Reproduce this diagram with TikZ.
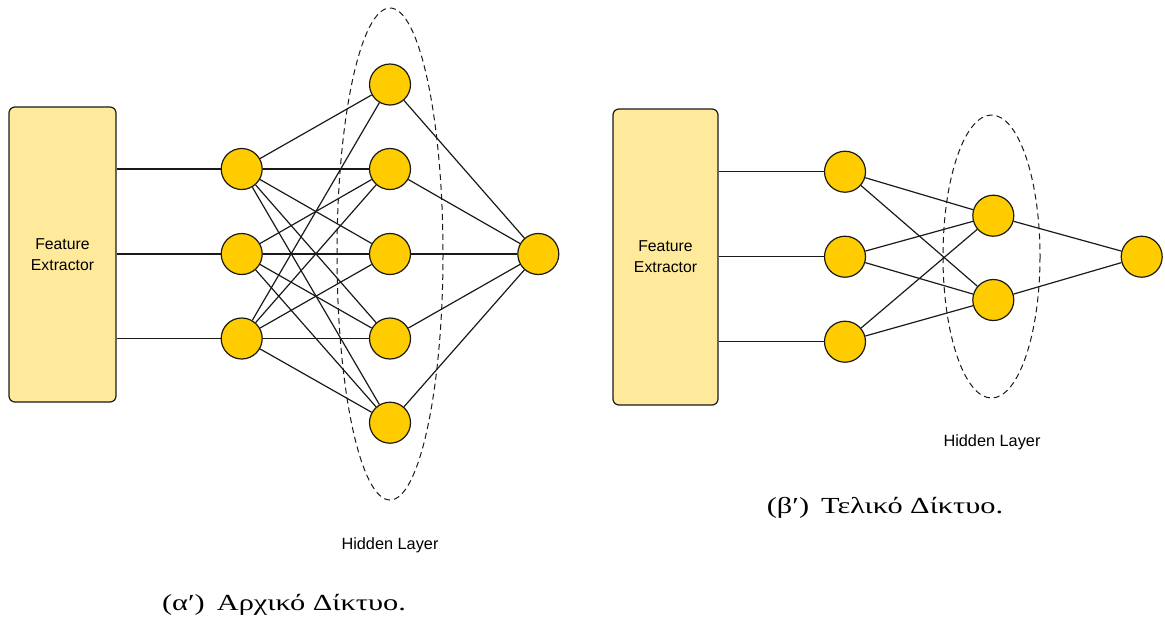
\documentclass[tikz,border=0pt]{standalone}
\usepackage{fontspec}
\setmainfont{Liberation Serif}
\setsansfont{Liberation Sans}
\newfontfamily\capfont[FakeStretch=1.32]{Liberation Serif}
\definecolor{boxfill}{HTML}{FFE99A}
\definecolor{nodefill}{HTML}{FFCC00}
\definecolor{edgecol}{HTML}{1A1A1A}
\begin{document}
\begin{tikzpicture}[x=1pt,y=-1pt,
  neuron/.style={circle,draw=edgecol,fill=nodefill,line width=1.2pt,minimum size=41pt,inner sep=0pt},
  febox/.style={draw=edgecol,fill=boxfill,rounded corners=6pt,line width=1.2pt,inner sep=0pt,align=center,
    font=\sffamily\fontsize{15.75}{21}\selectfont},
  link/.style={draw=edgecol,line width=1.2pt},
  hlayer/.style={draw=edgecol,dash pattern=on 6pt off 4pt,line width=1pt},
  lbl/.style={font=\sffamily\fontsize{16.3}{19}\selectfont,inner sep=0pt},
  captext/.style={font=\capfont\fontsize{23}{27}\selectfont,inner sep=0pt}]
\useasboundingbox (0,0) rectangle (1165,625);

% ---------- left network ----------
\draw[hlayer] (390,254) ellipse [x radius=53, y radius=246];
\node[febox,minimum width=107pt,minimum height=295pt] (feA) at (62.5,254.5) {Feature\\Extractor};
\node[neuron] (a1) at (241.7,169) {};
\node[neuron] (a2) at (241.7,254) {};
\node[neuron] (a3) at (241.7,338.5) {};
\node[neuron] (h1) at (390,84.5) {};
\node[neuron] (h2) at (390,169) {};
\node[neuron] (h3) at (390,254) {};
\node[neuron] (h4) at (390,338.5) {};
\node[neuron] (h5) at (390,422.7) {};
\node[neuron] (oA) at (538.3,254) {};

\draw[link] (feA.east |- a1) -- (a1);
\draw[link] (feA.east |- a2) -- (a2);
\draw[link] (feA.east |- a3) -- (a3);
\foreach \h in {h1,h2,h3,h4,h5} {
  \draw[link] (a1) -- (\h);
  \draw[link] (a3) -- (\h);
  \draw[link] (\h) -- (oA);
}
\foreach \h in {h2,h3,h4,h5} {
  \draw[link] (a2) -- (\h);
}
\node[lbl] (hlA) at (390,545) {Hidden Layer};
\node[captext] (capA) at (284,605) {(α′)\hspace{12pt}Αρχικό Δίκτυο.};

% ---------- right network ----------
\draw[hlayer] (991.5,256.5) ellipse [x radius=48.5, y radius=141.5];
\node[febox,minimum width=105pt,minimum height=296pt] (feB) at (665.5,257) {Feature\\Extractor};
\node[neuron] (b1) at (845,171.7) {};
\node[neuron] (b2) at (845,256.7) {};
\node[neuron] (b3) at (845,341.7) {};
\node[neuron] (k1) at (993.3,215.7) {};
\node[neuron] (k2) at (993.3,300) {};
\node[neuron] (oB) at (1141.7,256.7) {};

\draw[link] (feB.east |- b1) -- (b1);
\draw[link] (feB.east |- b2) -- (b2);
\draw[link] (feB.east |- b3) -- (b3);
\foreach \b in {b1,b2,b3} {
  \draw[link] (\b) -- (k1);
  \draw[link] (\b) -- (k2);
}
\draw[link] (k1) -- (oB);
\draw[link] (k2) -- (oB);
\node[lbl] (hlB) at (992,442) {Hidden Layer};
\node[captext] (capB) at (885,508) {(β′)\hspace{12pt}Τελικό Δίκτυο.};
\end{tikzpicture}
\end{document}
